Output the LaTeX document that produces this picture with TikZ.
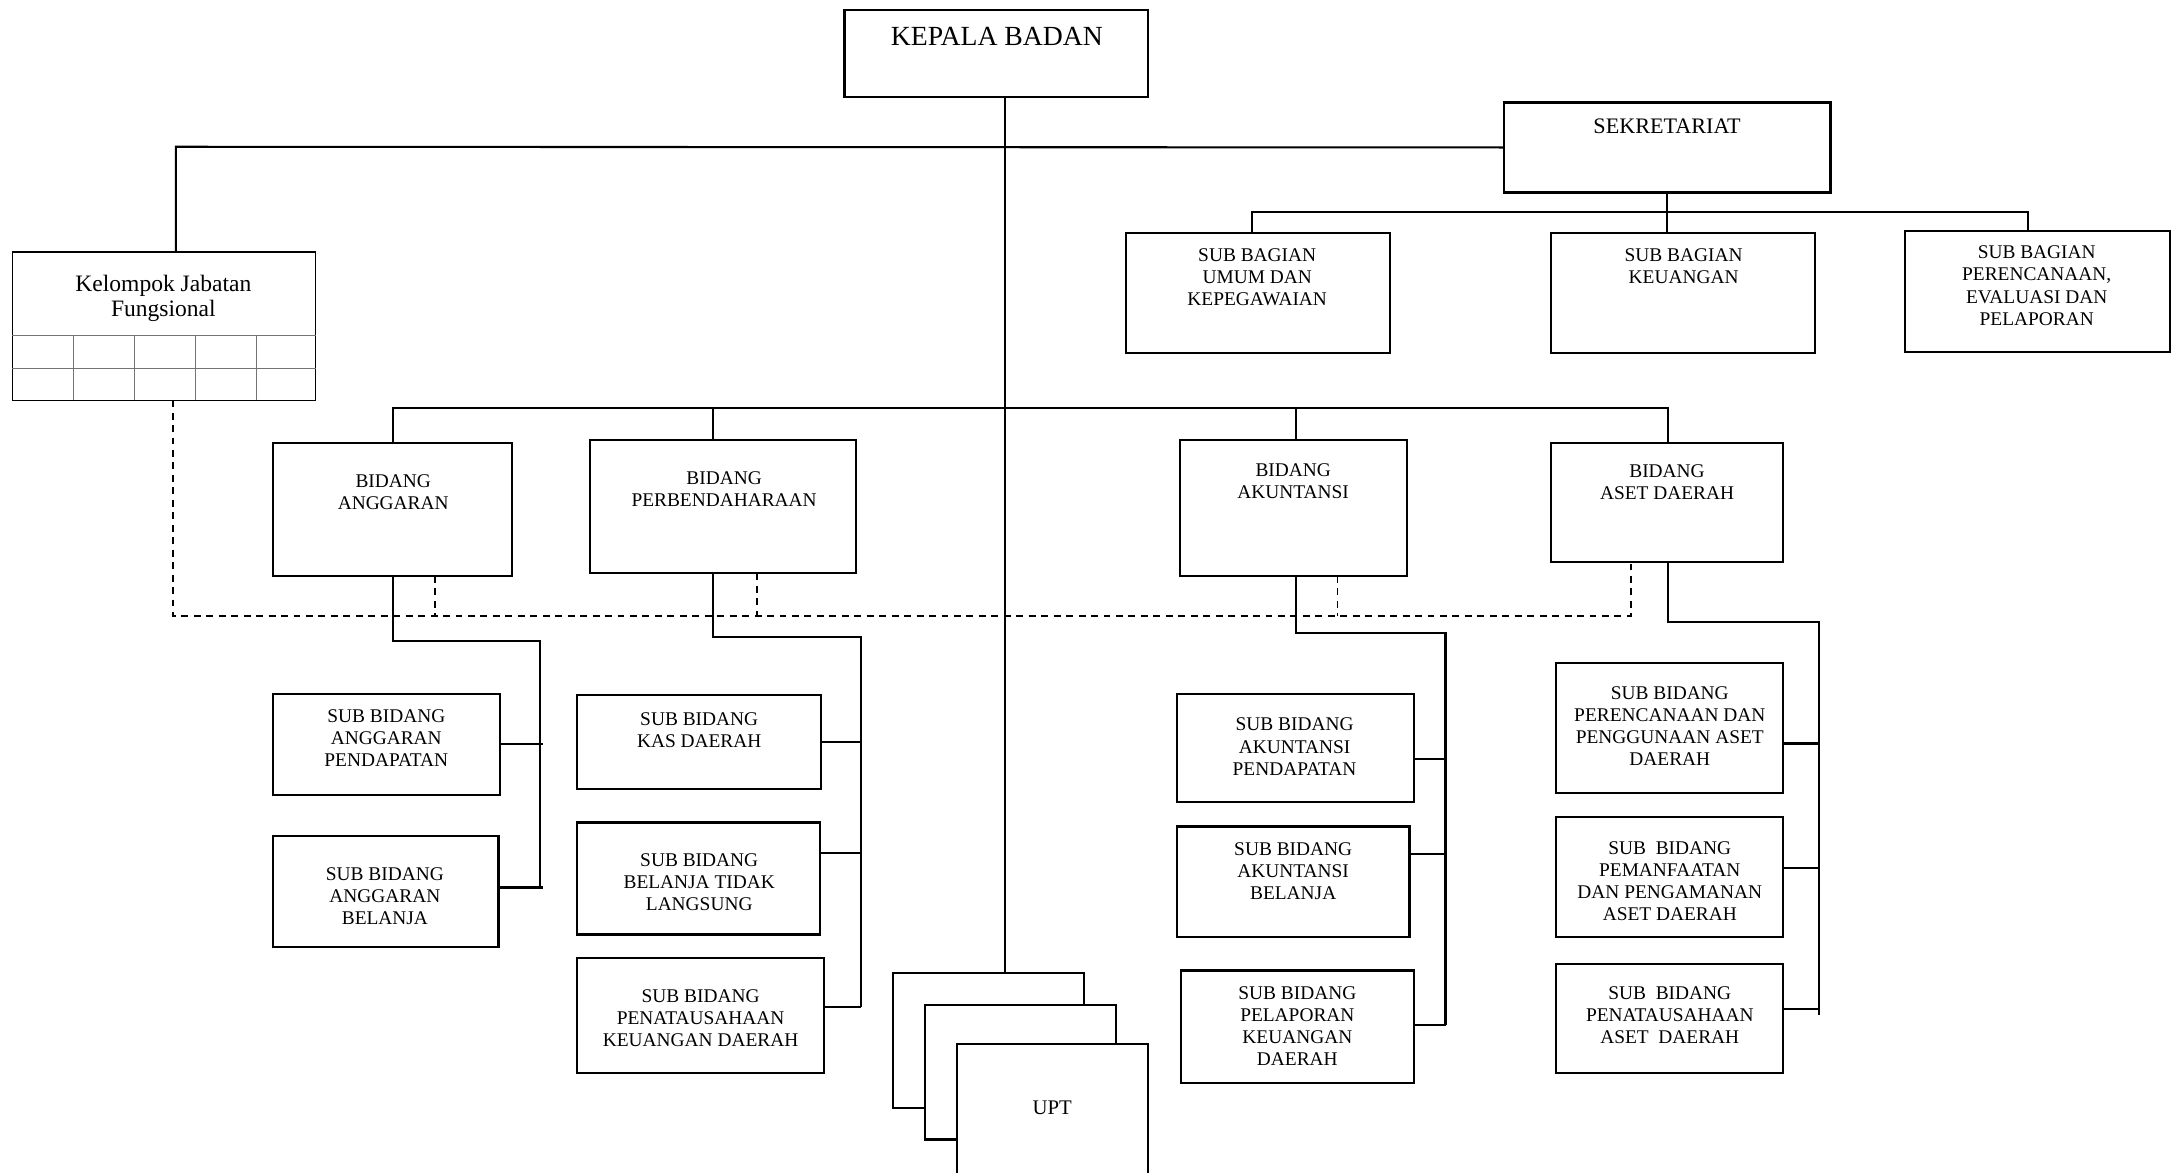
\documentclass[tikz,border=0pt]{standalone}
\usepackage{fontspec}
\setmainfont{Liberation Serif}
\usetikzlibrary{fit}
\tikzset{
 boxst/.style={draw, line width=1.6pt, inner sep=0pt, outer sep=0pt},
 kjfst/.style={draw, line width=0.9pt, inner sep=0pt, outer sep=0pt},
 gridst/.style={draw=black!55, line width=0.8pt},
 lbl/.style={anchor=north, inner sep=0pt, align=center, font=\fontsize{14}{16}\selectfont},
 conn/.style={line width=1.5pt},
 dsh/.style={line width=1.3pt, dash pattern=on 5pt off 4pt},
}
\newcommand\obox[9][]{%
  \node[boxst,fit={(#3,#4)(#5,#6)}] (#2) {};
  \node[lbl,#1] (#2t) at (#7,#8) {#9};}
\begin{document}
\begin{tikzpicture}[x=1pt,y=-1pt]
\useasboundingbox (0,0) rectangle (1568,847);
% boxes
\obox[font=\fontsize{20}{24}\selectfont]{kepala}{610}{7}{829}{70}{720}{19.5}{KEPALA BADAN}
\obox[font=\fontsize{16}{19}\selectfont]{sekr}{1086}{74}{1322}{139}{1204}{85.7}{SEKRETARIAT}
\obox{sbu}{813}{168}{1004}{255}{908}{179.4}{SUB BAGIAN\\UMUM DAN\\KEPEGAWAIAN}
\obox{sbk}{1120}{168}{1311}{255}{1216}{179.4}{SUB BAGIAN\\KEUANGAN}
\obox{sbp}{1376}{167}{1567}{254}{1471}{177.4}{SUB BAGIAN\\PERENCANAAN,\\EVALUASI DAN\\PELAPORAN}
\obox{bA}{197}{320}{370}{416}{284}{342.4}{BIDANG\\ANGGARAN}
\obox{bP}{426}{318}{618}{414}{523}{340.4}{BIDANG\\PERBENDAHARAAN}
\obox{bK}{852}{318}{1016}{416}{934}{334.4}{BIDANG\\AKUNTANSI}
\obox{bD}{1120}{320}{1288}{406}{1204}{335.4}{BIDANG\\ASET DAERAH}
\obox{aP}{197}{501}{361}{574}{279}{512.4}{SUB BIDANG\\ANGGARAN\\PENDAPATAN}
\obox{aB}{197}{604}{360}{684}{278}{626.4}{SUB BIDANG\\ANGGARAN\\BELANJA}
\obox{pK}{417}{502}{593}{570}{505}{514.4}{SUB BIDANG\\KAS DAERAH}
\obox{pB}{417}{594}{592}{675}{505}{616.4}{SUB BIDANG\\BELANJA TIDAK\\LANGSUNG}
\obox{pP}{417}{692}{595}{775}{506}{714.4}{SUB BIDANG\\PENATAUSAHAAN\\KEUANGAN DAERAH}
\obox{kP}{850}{501}{1021}{579}{935}{518.4}{SUB BIDANG\\AKUNTANSI\\PENDAPATAN}
\obox{kB}{850}{597}{1018}{677}{934}{608.4}{SUB BIDANG\\AKUNTANSI\\BELANJA}
\obox{kL}{853}{701}{1021}{782}{937}{712.4}{SUB BIDANG\\PELAPORAN\\KEUANGAN\\DAERAH}
\obox{dR}{1124}{479}{1288}{573}{1206}{495.4}{SUB BIDANG\\PERENCANAAN DAN\\PENGGUNAAN ASET\\DAERAH}
\obox{dM}{1124}{590}{1288}{677}{1206}{607.4}{SUB\ \ BIDANG\\PEMANFAATAN\\DAN PENGAMANAN\\ASET DAERAH}
\obox{dT}{1124}{696}{1288}{775}{1206}{712.4}{SUB\ \ BIDANG\\PENATAUSAHAAN\\ASET\ \ DAERAH}
% Kelompok Jabatan Fungsional
\node[kjfst, fit={(9,182)(228,289)}] (kjf) {};
\node[lbl, font=\fontsize{17}{18}\selectfont] (kjft) at (118,198.5) {Kelompok Jabatan\\Fungsional};
\draw[gridst] (9,242) -- (228,242) (9,266) -- (228,266)
  (53,242) -- (53,289) (97,242) -- (97,289) (141,242) -- (141,289) (185,242) -- (185,289);
% coordinates
\coordinate (jt) at (127,106);
\coordinate (tr) at (726,106);
\coordinate (su) at (904,153);
\coordinate (sp) at (1465,153);
\coordinate (bl) at (284,295);
\coordinate (br) at (1205,295);
\coordinate (bp) at (515,295);
\coordinate (bk) at (936,295);
\coordinate (aj) at (390,463);
\coordinate (ajs) at (284,463);
\coordinate (pj) at (622,460);
\coordinate (pjs) at (515,460);
\coordinate (kj) at (1044,457);
\coordinate (kjs) at (936,457);
\coordinate (dj) at (1314,449);
\coordinate (djs) at (1205,449);
\coordinate (dl) at (125,445);
\coordinate (dr) at (1178,445);
\coordinate (dA) at (314,445);
\coordinate (dP) at (547,445);
\coordinate (dK) at (966,445);
% UPT stack
\node[boxst, fill=white, fit={(645,703)(783,800)}] (upt1) {};
\node[boxst, fill=white, fit={(668,726)(806,823)}] (upt2) {};
\node[boxst, fill=white, fit={(691,754)(829,852)}] (upt3) {};
\node[font=\fontsize{15}{18}\selectfont, inner sep=0pt] (uptt) at (760,800) {UPT};
% main connectors
\draw[conn] (kepala.south -| tr) -- (upt1.north -| tr);
\draw[conn] (sekr.west) -- (jt) -- (jt |- kjf.north);
\draw[conn] (sekr.south) -- (sekr.south |- sbk.north);
\draw[conn] (su |- sbu.north) -- (su) -- (sp) -- (sp |- sbp.north);
\draw[conn] (bl |- bA.north) -- (bl) -- (br) -- (br |- bD.north);
\draw[conn] (bp) -- (bp |- bP.north);
\draw[conn] (bk) -- (bk |- bK.north);
% Anggaran
\draw[conn] (ajs |- bA.south) -- (ajs) -- (aj) -- ([yshift=3pt]aB.east -| aj);
\draw[conn] (aP.east) -- ([xshift=2pt]aP.east -| aj);
\draw[conn] ([yshift=3pt]aB.east) -- ([xshift=2pt,yshift=3pt]aB.east -| aj);
% Perbendaharaan
\draw[conn] (pjs |- bP.south) -- (pjs) -- (pj) -- ([yshift=6.5pt]pP.east -| pj);
\draw[conn] (pK.east) -- (pK.east -| pj);
\draw[conn] ([yshift=18.5pt]pB.east) -- ([yshift=18.5pt]pB.east -| pj);
\draw[conn] ([yshift=6.5pt]pP.east) -- ([yshift=6.5pt]pP.east -| pj);
% Akuntansi
\draw[conn] (kjs |- bK.south) -- (kjs) -- (kj) -- ([yshift=1.5pt]kL.east -| kj);
\draw[conn] ([yshift=-8pt]kP.east) -- ([yshift=-8pt]kP.east -| kj);
\draw[conn] ([yshift=20pt]kB.east) -- ([yshift=20pt]kB.east -| kj);
\draw[conn] ([yshift=1.5pt]kL.east) -- ([yshift=1.5pt]kL.east -| kj);
% Aset
\draw[conn] (djs |- bD.south) -- (djs) -- (dj) -- ([yshift=2.5pt]dT.east -| dj);
\draw[conn] ([yshift=-11pt]dR.east) -- ([yshift=-11pt]dR.east -| dj);
\draw[conn] ([yshift=6.5pt]dM.east) -- ([yshift=6.5pt]dM.east -| dj);
\draw[conn] ([yshift=6.5pt]dT.east) -- ([yshift=6.5pt]dT.east -| dj);
% dashed coordination lines
\draw[dsh] (dl |- kjf.south) -- (dl) -- (dr) -- (dr |- bD.south);
\draw[dsh] (dA |- bA.south) -- (dA);
\draw[dsh] (dP |- bP.south) -- (dP);
\draw[dsh] (dK |- bK.south) -- (dK);
\end{tikzpicture}
\end{document}
